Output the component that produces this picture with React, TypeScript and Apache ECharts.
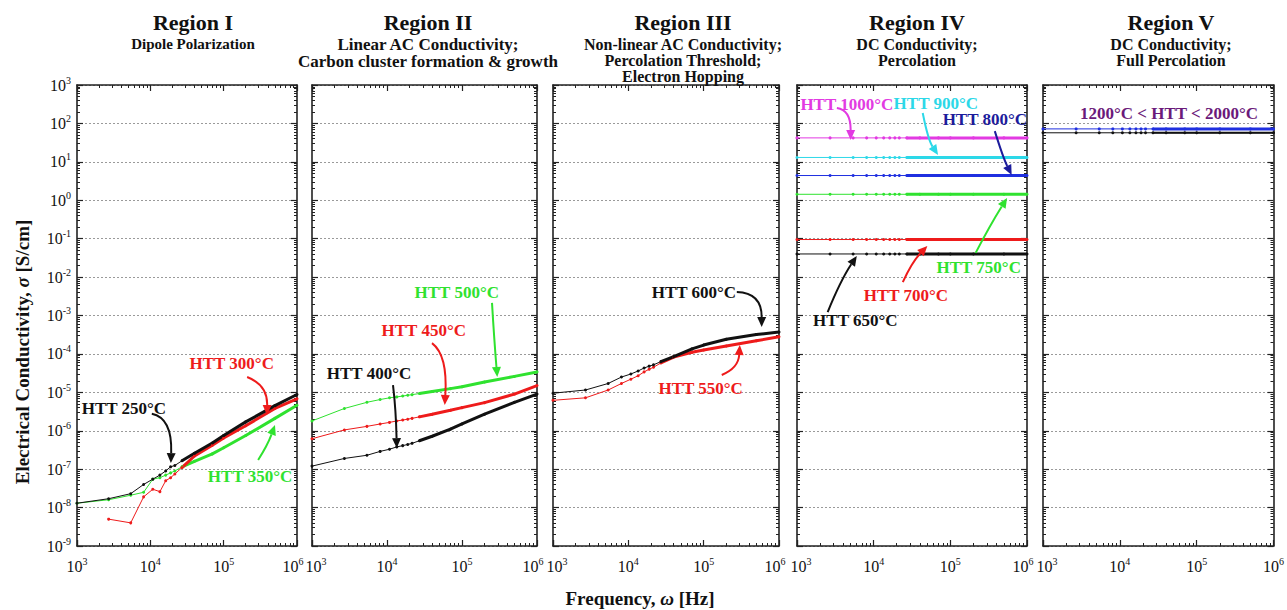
import React, { useEffect, useRef } from "react";
import * as echarts from "echarts";

// ---------------- data ----------------
const FREQ = [1000, 2700, 5400, 8100, 10800, 13500, 16200, 18900, 21600, 27000, 40000, 70000, 100000, 200000, 500000, 1000000];

// Region I
const HTT250 = [1.3e-8, 1.7e-8, 2.3e-8, 4.0e-8, 5.5e-8, 7.0e-8, 9.0e-8, 1.15e-7, 1.25e-7, 1.65e-7, 2.6e-7, 4.8e-7, 7.5e-7, 1.7e-6, 4.5e-6, 8.8e-6];
const HTT300 = [null, 5.0e-9, 4.0e-9, 1.9e-8, 3.0e-8, 2.6e-8, 5.0e-8, 6.0e-8, 7.5e-8, 1.1e-7, 2.2e-7, 4.2e-7, 6.5e-7, 1.35e-6, 3.8e-6, 6.8e-6];
const HTT350 = [1.3e-8, 1.6e-8, 2.1e-8, 2.5e-8, 5.5e-8, 6.0e-8, 7.0e-8, 8.0e-8, 9.0e-8, 1.15e-7, 1.6e-7, 2.5e-7, 3.6e-7, 7.5e-7, 2.1e-6, 4.6e-6];
// Region II
const HTT400 = [1.2e-7, 1.9e-7, 2.3e-7, 2.9e-7, 3.3e-7, 3.8e-7, 4.1e-7, 4.4e-7, 4.7e-7, 5.5e-7, 7.2e-7, 1.1e-6, 1.5e-6, 2.7e-6, 5.5e-6, 9.0e-6];
const HTT450 = [6.2e-7, 1.05e-6, 1.3e-6, 1.5e-6, 1.65e-6, 1.8e-6, 1.9e-6, 2.0e-6, 2.1e-6, 2.3e-6, 2.7e-6, 3.4e-6, 4.0e-6, 5.4e-6, 9.0e-6, 1.5e-5];
const HTT500 = [1.8e-6, 3.8e-6, 5.5e-6, 6.5e-6, 7.2e-6, 7.6e-6, 8.0e-6, 8.4e-6, 8.7e-6, 9.3e-6, 1.05e-5, 1.25e-5, 1.4e-5, 1.85e-5, 2.6e-5, 3.4e-5];
// Region III
const HTT550 = [6.2e-6, 7.2e-6, 1.15e-5, 1.7e-5, 2.2e-5, 2.7e-5, 3.4e-5, 4.0e-5, 4.5e-5, 5.8e-5, 8.3e-5, 1.1e-4, 1.26e-4, 1.6e-4, 2.2e-4, 2.8e-4];
const HTT600 = [9.5e-6, 1.15e-5, 1.7e-5, 2.5e-5, 3.0e-5, 3.6e-5, 4.3e-5, 4.8e-5, 5.2e-5, 6.3e-5, 8.5e-5, 1.35e-4, 1.7e-4, 2.4e-4, 3.2e-4, 3.7e-4];
// Region IV
const HTT650 = [0.04, 0.04, 0.04, 0.04, 0.04, 0.04, 0.04, 0.04, 0.04, 0.04, 0.04, 0.04, 0.04, 0.04, 0.04, 0.04];
const HTT700 = [0.095, 0.095, 0.095, 0.095, 0.095, 0.095, 0.095, 0.095, 0.095, 0.095, 0.095, 0.095, 0.095, 0.095, 0.095, 0.095];
const HTT750 = [1.43, 1.43, 1.43, 1.43, 1.43, 1.43, 1.43, 1.43, 1.43, 1.43, 1.43, 1.43, 1.43, 1.43, 1.43, 1.43];
const HTT800 = [4.4, 4.4, 4.4, 4.4, 4.4, 4.4, 4.4, 4.4, 4.4, 4.4, 4.4, 4.4, 4.4, 4.4, 4.4, 4.4];
const HTT900 = [13, 13, 13, 13, 13, 13, 13, 13, 13, 13, 13, 13, 13, 13, 13, 13];
const HTT1000 = [42, 42, 42, 42, 42, 42, 42, 42, 42, 42, 42, 42, 42, 42, 42, 42];
// Region V
const HTT_FULL_A = [72, 72, 72, 72, 72, 72, 72, 72, 72, 72, 72, 72, 72, 72, 72, 72];
const HTT_FULL_B = [57, 57, 57, 57, 57, 57, 57, 57, 57, 57, 57, 57, 57, 57, 57, 57];

const TITLES = ["Region I", "Region II", "Region III", "Region IV", "Region V"];
const SUBTITLES = [
  "Dipole Polarization",
  "Linear AC Conductivity;\nCarbon cluster formation & growth",
  "Non-linear AC Conductivity;\nPercolation Threshold;\nElectron Hopping",
  "DC Conductivity;\nPercolation",
  "DC Conductivity;\nFull Percolation",
];
const X_TITLE = ["Frequency, ", "ω", " [Hz]"];
const Y_TITLE = ["Electrical Conductivity, ", "σ", " [S/cm]"];

// ---------------- style / layout ----------------
const SERIF = '"Liberation Serif", "Times New Roman", serif';
const COL = {
  black: "#111111",
  red: "#ee1b1b",
  green: "#2fe22f",
  magenta: "#e23ae2",
  cyan: "#2cd8e8",
  blue: "#1f2fe0",
  navy: "#1c1c9c",
  purple: "#6b1a7a",
};
const GRID_TOP = 85;
const GRID_HEIGHT = 461;
const PANEL_BOXES = [
  { left: 77, width: 220 },
  { left: 312, width: 225 },
  { left: 553, width: 226 },
  { left: 797, width: 230 },
  { left: 1043, width: 233 },
];
const TITLE_CENTERS = [188, 423, 678, 912, 1166];
const SUBTITLE_SIZES = [15, 17, 16, 16, 16];
const THICK_FROM = 25000;

const CURVES = [
  { panel: 0, name: "HTT 350°C", values: HTT350, color: COL.green },
  { panel: 0, name: "HTT 300°C", values: HTT300, color: COL.red },
  { panel: 0, name: "HTT 250°C", values: HTT250, color: COL.black },
  { panel: 1, name: "HTT 400°C", values: HTT400, color: COL.black },
  { panel: 1, name: "HTT 450°C", values: HTT450, color: COL.red },
  { panel: 1, name: "HTT 500°C", values: HTT500, color: COL.green },
  { panel: 2, name: "HTT 550°C", values: HTT550, color: COL.red },
  { panel: 2, name: "HTT 600°C", values: HTT600, color: COL.black },
  { panel: 3, name: "HTT 650°C", values: HTT650, color: COL.black },
  { panel: 3, name: "HTT 700°C", values: HTT700, color: COL.red },
  { panel: 3, name: "HTT 750°C", values: HTT750, color: COL.green },
  { panel: 3, name: "HTT 800°C", values: HTT800, color: COL.blue },
  { panel: 3, name: "HTT 900°C", values: HTT900, color: COL.cyan },
  { panel: 3, name: "HTT 1000°C", values: HTT1000, color: COL.magenta },
  { panel: 4, name: "HTT 1200°C", values: HTT_FULL_B, color: COL.black, thin: true },
  { panel: 4, name: "HTT 2000°C", values: HTT_FULL_A, color: COL.blue },
];

// annotations in data space: [log10 f, log10 sigma]
const ANNOTATIONS = [
  { panel: 0, text: "HTT 250°C", color: COL.black, at: [3.64, -5.41], arrow: [[4.02, -5.56], [4.3, -5.67], [4.28, -6.84]] },
  { panel: 0, text: "HTT 300°C", color: COL.red, at: [5.11, -4.24], arrow: [[5.32, -4.6], [5.6, -4.81], [5.59, -5.59]] },
  { panel: 0, text: "HTT 350°C", color: COL.green, at: [5.36, -7.2], arrow: [[5.47, -6.76], [5.6, -6.37], [5.7, -5.85]] },
  { panel: 1, text: "HTT 400°C", color: COL.black, at: [3.76, -4.5], arrow: [[4.08, -4.81], [4.12, -5.46], [4.13, -6.45]] },
  { panel: 1, text: "HTT 450°C", color: COL.red, at: [4.49, -3.38], arrow: [[4.6, -3.72], [4.81, -4.03], [4.77, -5.33]] },
  { panel: 1, text: "HTT 500°C", color: COL.green, at: [4.93, -2.41], arrow: [[5.4, -2.67], [5.43, -3.64], [5.47, -4.6]] },
  { panel: 2, text: "HTT 600°C", color: COL.black, at: [4.87, -2.39], arrow: [[5.44, -2.39], [5.77, -2.41], [5.77, -3.3]] },
  { panel: 2, text: "HTT 550°C", color: COL.red, at: [4.96, -4.89], arrow: [[5.24, -4.55], [5.46, -4.37], [5.48, -3.77]] },
  { panel: 3, text: "HTT 1000°C", color: COL.magenta, at: [3.65, 2.48], arrow: [[3.52, 2.4], [3.7, 2.35], [3.7, 1.57]] },
  { panel: 3, text: "HTT 900°C", color: COL.cyan, at: [4.81, 2.53], arrow: [[4.64, 2.27], [4.71, 1.57], [4.84, 1.18]] },
  { panel: 3, text: "HTT 800°C", color: COL.navy, at: [5.45, 2.09], arrow: [[5.58, 1.8], [5.69, 1.1], [5.8, 0.66]] },
  { panel: 3, text: "HTT 750°C", color: COL.green, at: [5.37, -1.76], arrow: [[5.33, -1.37], [5.52, -0.64], [5.74, 0.06]] },
  { panel: 3, text: "HTT 700°C", color: COL.red, at: [4.42, -2.47], arrow: [[4.38, -2.13], [4.5, -1.61], [4.7, -1.19]] },
  { panel: 3, text: "HTT 650°C", color: COL.black, at: [3.76, -3.12], arrow: [[3.4, -2.91], [3.57, -2.08], [3.78, -1.45]] },
  { panel: 4, text: "1200°C < HTT < 2000°C", color: COL.purple, at: [4.64, 2.27], arrow: null },
];

const yLabel = (v: number) => `{b|10}{s|${Math.round(Math.log10(v))}}`;
const makeXLabel = (padMin: boolean, padMax: boolean) => (v: number) => {
  const e = Math.round(Math.log10(v));
  if (e === 3 && padMin) return `{bl|10}{s|${e}}`;
  if (e === 6 && padMax) return `{b|10}{sr|${e}}`;
  return `{b|10}{s|${e}}`;
};
const POW_RICH = {
  b: { fontFamily: SERIF, fontSize: 16, color: "#111" },
  bl: { fontFamily: SERIF, fontSize: 16, color: "#111", padding: [0, 0, 0, 8] },
  s: { fontFamily: SERIF, fontSize: 10, color: "#111", padding: [0, 0, 10, 0] },
  sr: { fontFamily: SERIF, fontSize: 10, color: "#111", padding: [0, 8, 10, 0] },
};

function buildOption() {
  const axisLine = { show: true, onZero: false, lineStyle: { color: "#222", width: 1.6 } };
  const axisTick = { show: true, inside: true, length: 6, lineStyle: { color: "#222", width: 1.2 } };
  const minorTick = { show: true, splitNumber: 9, length: 3, lineStyle: { color: "#222", width: 1 } };

  const grid = PANEL_BOXES.map((b) => ({ left: b.left, width: b.width, top: GRID_TOP, height: GRID_HEIGHT, containLabel: false }));
  const last = PANEL_BOXES.length - 1;

  const xAxis = PANEL_BOXES.flatMap((_, i) => [
    {
      type: "log", logBase: 10, gridIndex: i, min: 1000, max: 1000000, position: "bottom",
      axisLine, axisTick, minorTick,
      axisLabel: {
        show: true, formatter: makeXLabel(i > 0, i < last), rich: POW_RICH, margin: 10,
        showMinLabel: true, showMaxLabel: true, hideOverlap: false,
      },
      splitLine: { show: false },
    },
    {
      type: "log", logBase: 10, gridIndex: i, min: 1000, max: 1000000, position: "top",
      axisLine, axisTick, minorTick, axisLabel: { show: false }, splitLine: { show: false },
    },
  ]);

  const yAxis = PANEL_BOXES.flatMap((_, i) => [
    {
      type: "log", logBase: 10, gridIndex: i, min: 1e-9, max: 1000, position: "left", splitNumber: 12, interval: 1,
      axisLine, axisTick, minorTick,
      axisLabel: { show: i === 0, formatter: yLabel, rich: POW_RICH, margin: 6, showMinLabel: true, showMaxLabel: true, hideOverlap: false },
      splitLine: { show: true, lineStyle: { color: "#9a9a9a", width: 1, type: [2, 2] } },
    },
    {
      type: "log", logBase: 10, gridIndex: i, min: 1e-9, max: 1000, position: "right", splitNumber: 12, interval: 1,
      axisLine, axisTick, minorTick, axisLabel: { show: false }, splitLine: { show: false },
    },
  ]);

  const series = CURVES.flatMap((c: any) => {
    const pts = FREQ.map((f, i) => [f, c.values[i]]).filter((p) => p[1] != null);
    return [
      {
        type: "line", name: c.name, xAxisIndex: 2 * c.panel, yAxisIndex: 2 * c.panel, data: pts,
        symbol: "circle", symbolSize: 3, showSymbol: true, showAllSymbol: true,
        lineStyle: { width: 1, color: c.color }, itemStyle: { color: c.color },
        emphasis: { disabled: true }, z: 3,
      },
      {
        type: "line", name: c.name + " dense", xAxisIndex: 2 * c.panel, yAxisIndex: 2 * c.panel,
        data: pts.filter((p) => (p[0] as number) >= THICK_FROM),
        symbol: "none", lineStyle: { width: c.thin ? 2 : 3, color: c.color }, emphasis: { disabled: true }, z: 3,
      },
    ];
  });

  const title = TITLES.map((t, i) => ({
    text: t, subtext: SUBTITLES[i], left: TITLE_CENTERS[i], top: 6, textAlign: "center", itemGap: 3,
    textStyle: { fontFamily: SERIF, fontSize: 22, fontWeight: "bold", color: "#111" },
    subtextStyle: { fontFamily: SERIF, fontSize: SUBTITLE_SIZES[i], fontWeight: "bold", color: "#111", lineHeight: SUBTITLE_SIZES[i] },
  }));

  return { animation: false, backgroundColor: "#ffffff", title, grid, xAxis, yAxis, series };
}

function arrowGraphics(pts: number[][], color: string) {
  const [p0, c, p1] = pts;
  const dx = p1[0] - c[0];
  const dy = p1[1] - c[1];
  const len = Math.hypot(dx, dy) || 1;
  const ux = dx / len, uy = dy / len;
  const hl = 10, hw = 4.5;
  const bx = p1[0] - ux * hl, by = p1[1] - uy * hl;
  return [
    {
      type: "bezierCurve", silent: true, z: 20,
      shape: { x1: p0[0], y1: p0[1], cpx1: c[0], cpy1: c[1], x2: bx, y2: by },
      style: { stroke: color, lineWidth: 2, fill: null },
    },
    {
      type: "polygon", silent: true, z: 20,
      shape: { points: [[p1[0], p1[1]], [bx - uy * hw, by + ux * hw], [bx + uy * hw, by - ux * hw]] },
      style: { fill: color },
    },
  ];
}

export default function App() {
  const ref = useRef<HTMLDivElement | null>(null);
  useEffect(() => {
    if (!ref.current) return;
    const chart = echarts.init(ref.current, null, { renderer: "svg" });
    chart.setOption(buildOption() as any);

    const toPx = (panel: number, p: number[]) =>
      chart.convertToPixel({ xAxisIndex: 2 * panel, yAxisIndex: 2 * panel } as any, [Math.pow(10, p[0]), Math.pow(10, p[1])]) as number[];

    const graphics: any[] = [];
    ANNOTATIONS.forEach((a) => {
      const at = toPx(a.panel, a.at);
      graphics.push({
        type: "text", x: at[0], y: at[1], z: 21, silent: true,
        style: { text: a.text, fill: a.color, fontFamily: SERIF, fontSize: 17, fontWeight: "bold", align: "center", verticalAlign: "middle" },
      });
      if (a.arrow) {
        const pts = a.arrow.map((p) => toPx(a.panel, p));
        graphics.push(...arrowGraphics(pts, a.color));
      }
    });
    const titleRich = {
      n: { fontFamily: SERIF, fontSize: 19, fontWeight: "bold", fill: "#111" },
      i: { fontFamily: SERIF, fontSize: 19, fontWeight: "bold", fontStyle: "italic", fill: "#111" },
    };
    graphics.push({
      type: "text", x: 22, y: 352, rotation: Math.PI / 2, silent: true,
      style: { text: `{n|${Y_TITLE[0]}}{i|${Y_TITLE[1]}}{n|${Y_TITLE[2]}}`, align: "center", verticalAlign: "middle", rich: titleRich },
    });
    graphics.push({
      type: "text", x: 640, y: 598, silent: true,
      style: { text: `{n|${X_TITLE[0]}}{i|${X_TITLE[1]}}{n|${X_TITLE[2]}}`, align: "center", verticalAlign: "middle", rich: titleRich },
    });
    chart.setOption({ graphic: graphics } as any);

    return () => chart.dispose();
  }, []);

  return <div ref={ref} style={{ position: "absolute", left: 0, top: 0, width: 1287, height: 610 }} />;
}
